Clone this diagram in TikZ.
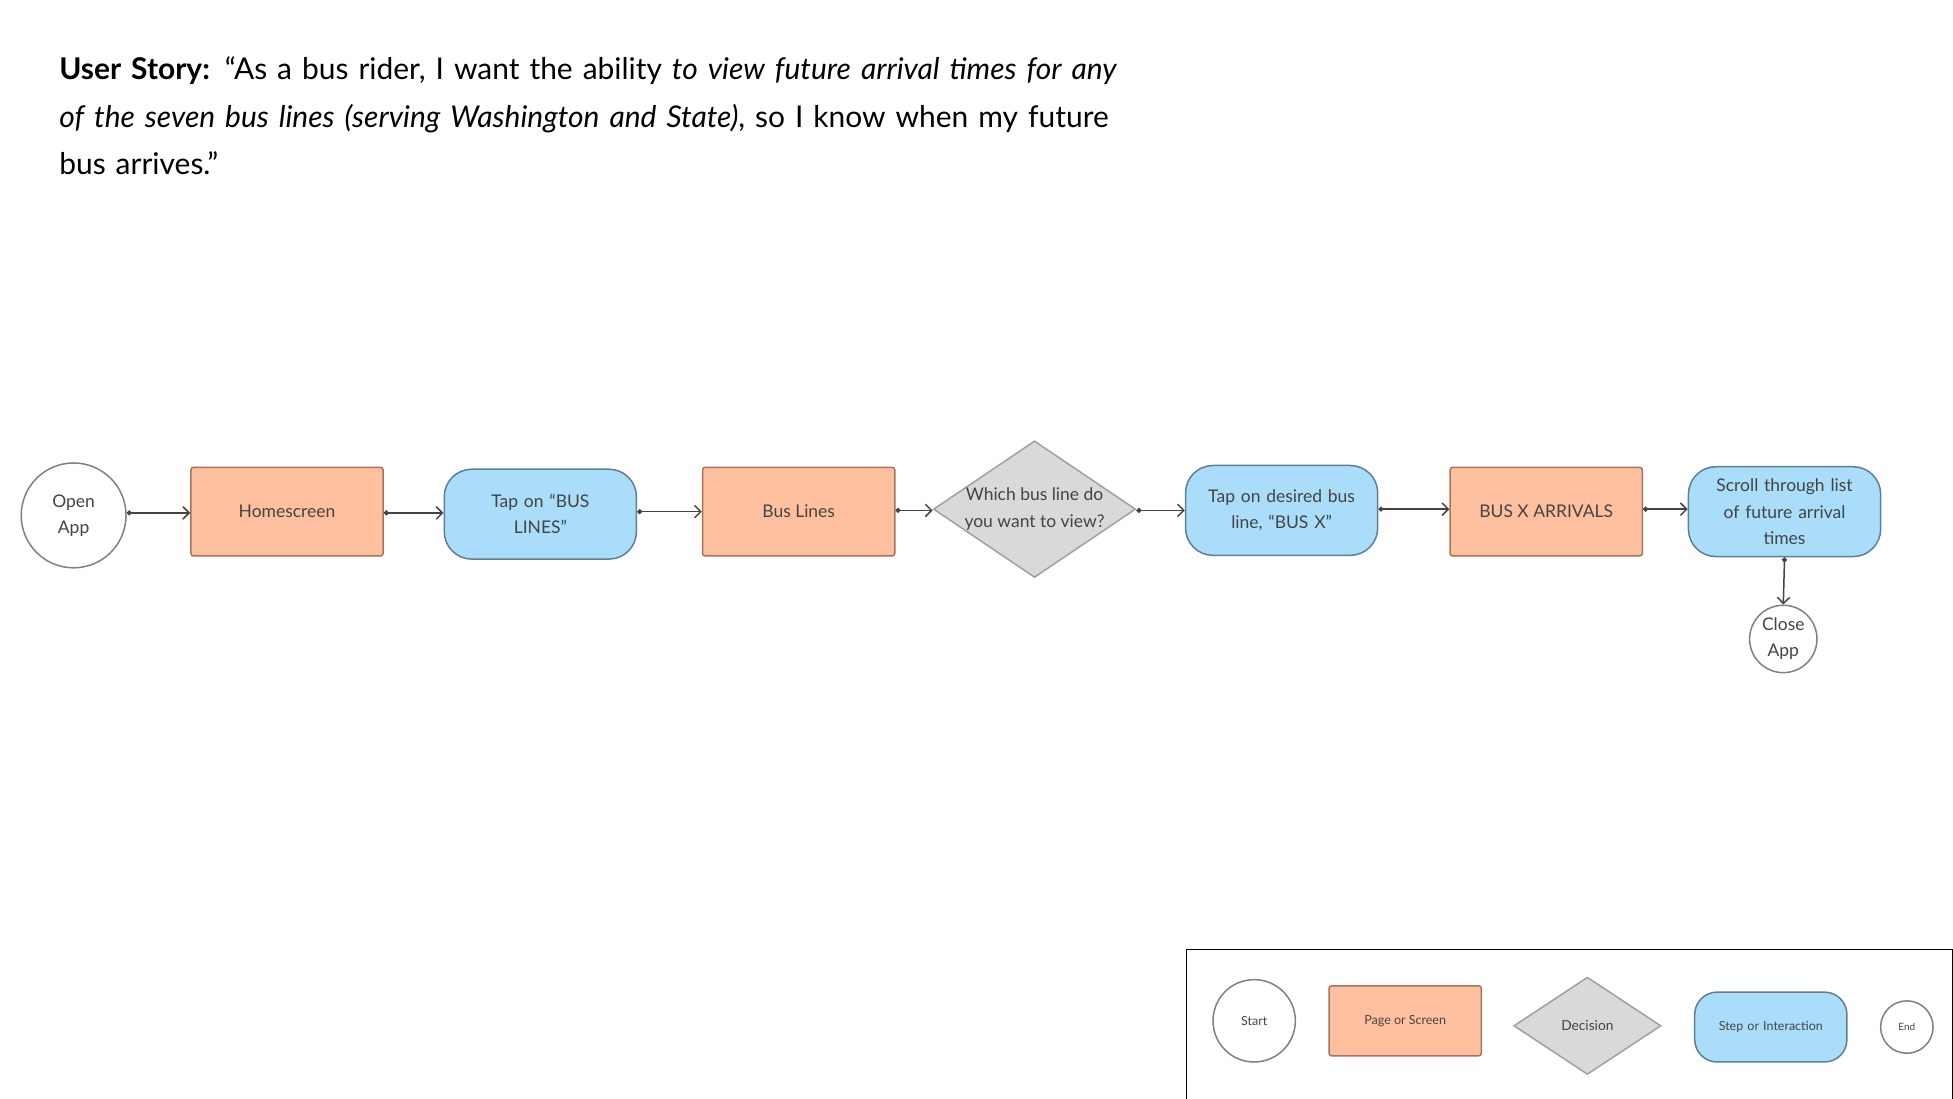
\documentclass[tikz,border=0pt]{standalone}
\usepackage{fontspec}
\setmainfont{Lato}
\usetikzlibrary{shapes.geometric,arrows.meta}
\definecolor{pfill}{HTML}{FFC09F}\definecolor{pdraw}{HTML}{A8735C}
\definecolor{sfill}{HTML}{AADDFA}\definecolor{sdraw}{HTML}{5E7E98}
\definecolor{dfill}{HTML}{D9D9D9}\definecolor{ddraw}{HTML}{A0A0A0}
\definecolor{txt}{HTML}{444444}
\begin{document}
\begin{tikzpicture}[x=1pt,y=-1pt,
 every node/.style={font=\fontsize{14}{21}\selectfont,text=txt,align=center},
 page/.style={draw=pdraw,fill=pfill,line width=1.2pt,minimum width=154pt,minimum height=71pt,rounded corners=2pt},
 stepbox/.style={draw=sdraw,fill=sfill,line width=1.2pt,minimum width=154pt,minimum height=72pt,rounded corners=22pt,text width=140pt},
 dec/.style={diamond,draw=ddraw,fill=dfill,line width=1.2pt,minimum width=160pt,minimum height=108pt,aspect=1.48,inner sep=0pt},
 term/.style={circle,draw=ddraw!80!black,line width=1.2pt,fill=white,inner sep=0pt},
 arr/.style={draw=txt,line width=1.2pt,{Circle[length=4pt]}-{Straight Barb[length=5pt]}}]
\useasboundingbox (0,0) rectangle (1565,880);
\node[anchor=north west,text width=860pt,align=left,text=black,font=\fontsize{24}{38}\selectfont] (title) at (44,42)
 {\textbf{User Story:} “As a bus rider, I want the ability \textit{to view future arrival times for any of the seven bus lines (serving Washington and State)}, so I know when my future bus arrives.”};
\node[term,minimum size=84pt] (open) at (59,413) {Open\\App};
\node[page] (home) at (230,410) {Homescreen};
\node[stepbox] (tap1) at (433,412) {Tap on “BUS\\LINES”};
\node[page] (lines) at (640,410) {Bus Lines};
\node[dec] (which) at (829,408) {Which bus line do\\you want to view?};
\node[stepbox] (tap2) at (1027,409) {Tap on desired bus\\line, “BUS X”};
\node[page] (arrivals) at (1239,410) {BUS X ARRIVALS};
\node[stepbox] (scroll) at (1430,410) {Scroll through list\\of future arrival\\times};
\node[term,minimum size=54pt] (close) at (1429,512) {Close\\App};
\draw[arr] (open.east|-0,411) -- (home.west|-0,411);
\draw[arr] (home.east|-0,411) -- (tap1.west|-0,411);
\draw[arr] (tap1.east|-0,410) -- (lines.west|-0,410);
\draw[arr] (lines.east|-0,409) -- (which.west|-0,409);
\draw[arr] (which.east|-0,409) -- (tap2.west|-0,409);
\draw[arr] (tap2.east|-0,408) -- (arrivals.west|-0,408);
\draw[arr] (arrivals.east|-0,408) -- (scroll.west|-0,408);
\draw[arr] (scroll.south) -- (close.north);
\node[draw=black,line width=1pt,minimum width=614pt,minimum height=121pt,inner sep=0pt] (legend) at (1258,821.5) {};
\node[term,minimum size=66pt,font=\fontsize{10}{12}\selectfont] (ls) at (1005,818) {Start};
\node[page,minimum width=122pt,minimum height=56pt,font=\fontsize{10}{12}\selectfont] (lp) at (1126,818) {Page or Screen};
\node[dec,minimum width=118pt,minimum height=78pt,font=\fontsize{11}{13}\selectfont] (ld) at (1272,822) {Decision};
\node[stepbox,minimum width=122pt,minimum height=56pt,text width=110pt,rounded corners=18pt,font=\fontsize{10}{12}\selectfont] (lst) at (1419,823) {Step or Interaction};
\node[term,minimum size=42pt,font=\fontsize{8}{10}\selectfont] (le) at (1528,823) {End};
\end{tikzpicture}
\end{document}
